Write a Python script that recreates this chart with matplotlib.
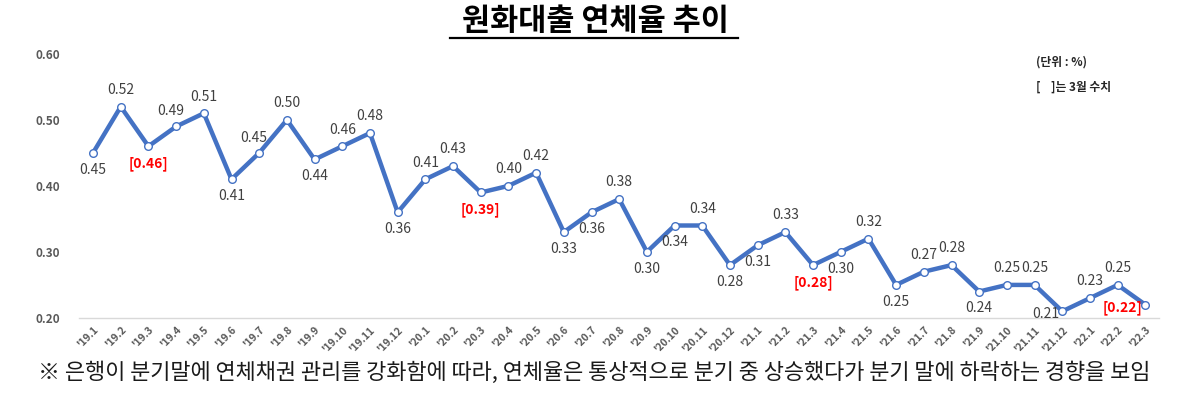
import matplotlib
matplotlib.use("Agg")
import matplotlib.pyplot as plt

plt.rcParams['font.family'] = ['Noto Sans CJK KR', 'DejaVu Sans']

months = ["'19.1", "'19.2", "'19.3", "'19.4", "'19.5", "'19.6", "'19.7", "'19.8", "'19.9", "'19.10", "'19.11", "'19.12",
          "'20.1", "'20.2", "'20.3", "'20.4", "'20.5", "'20.6", "'20.7", "'20.8", "'20.9", "'20.10", "'20.11", "'20.12",
          "'21.1", "'21.2", "'21.3", "'21.4", "'21.5", "'21.6", "'21.7", "'21.8", "'21.9", "'21.10", "'21.11", "'21.12",
          "'22.1", "'22.2", "'22.3"]
rates = [0.45, 0.52, 0.46, 0.49, 0.51, 0.41, 0.45, 0.50, 0.44, 0.46, 0.48, 0.36,
         0.41, 0.43, 0.39, 0.40, 0.42, 0.33, 0.36, 0.38, 0.30, 0.34, 0.34, 0.28,
         0.31, 0.33, 0.28, 0.30, 0.32, 0.25, 0.27, 0.28, 0.24, 0.25, 0.25, 0.21,
         0.23, 0.25, 0.22]
yticks = [0.20, 0.30, 0.40, 0.50, 0.60]

# label placement: a = above, b = below, l = left
placement = ['b', 'a', 'b', 'al', 'a', 'b', 'al', 'a', 'b', 'a', 'a', 'b',
             'a', 'a', 'b', 'a', 'a', 'b', 'b', 'a', 'b', 'b', 'a', 'b',
             'b', 'a', 'b', 'b', 'a', 'b', 'a', 'a', 'b', 'a', 'a', 'l',
             'a', 'a', 'l']

fig = plt.figure(figsize=(12, 4.05), dpi=100)
ax = fig.add_axes([0.066, 0.215, 0.9, 0.652])

x = list(range(len(months)))
ax.plot(x, rates, color='#4472C4', lw=3.2, marker='o', markersize=5.5,
        markerfacecolor='white', markeredgecolor='#4472C4', markeredgewidth=1.0, zorder=3)

for i, (m, v) in enumerate(zip(months, rates)):
    is_march = m.endswith('.3')
    txt = f"[{v:.2f}]" if is_march else f"{v:.2f}"
    color = '#FF0000' if is_march else '#404040'
    weight = 'bold' if is_march else 'normal'
    p = placement[i]
    if p == 'a':
        off, ha, va = (0, 7), 'center', 'bottom'
    elif p == 'al':
        off, ha, va = (-4, 6), 'center', 'bottom'
    elif p == 'b':
        off, ha, va = (0, -7), 'center', 'top'
    else:
        off, ha, va = (-2, -2), 'right', 'center'
    ax.annotate(txt, (i, v), xytext=off, textcoords='offset points',
                ha=ha, va=va, fontsize=10, color=color, fontweight=weight, zorder=4)

ax.set_xlim(-0.5, len(months) - 0.5)
ax.set_ylim(0.20, 0.60)
ax.set_yticks(yticks)
ax.set_yticklabels([f"{t:.2f}" for t in yticks], fontsize=8.5, color='#595959', fontweight='bold')
ax.set_xticks(x)
ax.set_xticklabels(months, rotation=45, ha='right', rotation_mode='anchor',
                   fontsize=7.5, color='#595959', fontweight='bold')
ax.tick_params(axis='both', length=0)
ax.tick_params(axis='y', pad=14)
ax.tick_params(axis='x', pad=5)
for s in ['top', 'right', 'left']:
    ax.spines[s].set_visible(False)
ax.spines['bottom'].set_color('#D9D9D9')
ax.spines['bottom'].set_linewidth(1.0)

fig.text(0.4958, 0.948, '원화대출 연체율 추이', ha='center', va='center',
         fontsize=22, fontweight='bold', color='black')
fig.add_artist(plt.Line2D([0.375, 0.615], [0.907, 0.907], color='black', lw=1.6))

fig.text(0.863, 0.848, '(단위 : %)', fontsize=8.5, fontweight='bold', color='#262626', va='center')
fig.text(0.863, 0.785, '[    ]는 3월 수치', fontsize=8.5, fontweight='bold', color='#262626', va='center')

fig.text(0.032, 0.08, '※ 은행이 분기말에 연체채권 관리를 강화함에 따라, 연체율은 통상적으로 분기 중 상승했다가 분기 말에 하락하는 경향을 보임',
         fontsize=15.8, color='#1a1a1a', va='center')

fig.savefig('out.png', dpi=100)
